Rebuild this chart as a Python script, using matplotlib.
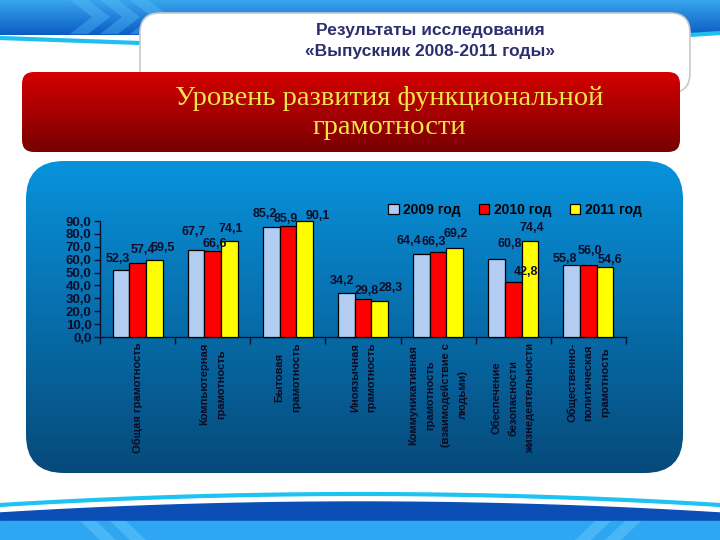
import numpy as np
import matplotlib
matplotlib.use("Agg")
import matplotlib.pyplot as plt
from matplotlib.patches import FancyBboxPatch, Polygon, Patch
from matplotlib.colors import to_rgb
import matplotlib.transforms as mtransforms

plt.rcParams['font.family'] = ['Liberation Sans', 'DejaVu Sans']

# Data
categories = ["Общая грамотность",
              "Компьютерная\nграмотность",
              "Бытовая\nграмотность",
              "Иноязычная\nграмотность",
              "Коммуникативная\nграмотность\n(взаимодействие с\nлюдьми)",
              "Обеспечение\nбезопасности\nжизнедеятельности",
              "Общественно-\nполитическая\nграмотность"]
series_names = ["2009 год", "2010 год", "2011 год"]
vals_2009 = [52.3, 67.7, 85.2, 34.2, 64.4, 60.8, 55.8]
vals_2010 = [57.4, 66.6, 85.9, 29.8, 66.3, 42.8, 56.0]
vals_2011 = [59.5, 74.1, 90.1, 28.3, 69.2, 74.4, 54.6]
y_ticks = [0, 10, 20, 30, 40, 50, 60, 70, 80, 90]

title_lines = "Результаты исследования\n«Выпускник 2008-2011 годы»"
banner_text = "Уровень развития функциональной\nграмотности"

bar_colors = ["#b3cdf2", "#ff0000", "#ffff00"]

# label nudges in pixels (dx, height of label centre above bar top), like the Excel layout
label_nudge = [
    [(-3, 11), (-2, 18), (-6, 13), (-4, 12), (-13, 13), (13, 15), (-7, 6)],
    [(5, 13), (2, 7), (-2, 7), (4, 8), (-4, 10), (13, 10), (1, 14)],
    [(9, 12), (1, 12), (13, 5), (11, 13), (1, 14), (2, 13), (5, 7)],
]

fig = plt.figure(figsize=(7.2, 5.4), dpi=100)

# background canvas in pixel units
bg = fig.add_axes([0, 0, 1, 1], zorder=0)
bg.set_xlim(0, 720)
bg.set_ylim(540, 0)
bg.axis("off")


def grad_box(x, y, w, h, r, top, bottom, edge="none", z=1):
    patch = FancyBboxPatch((x, y), w, h, boxstyle=f"round,pad=0,rounding_size={r}",
                           facecolor="none", edgecolor=edge, linewidth=1, zorder=z + 0.1)
    bg.add_patch(patch)
    t, b = np.array(to_rgb(top)), np.array(to_rgb(bottom))
    k = np.linspace(0, 1, 256)[:, None]
    arr = (t * (1 - k) + b * k)[:, None, :]
    im = bg.imshow(arr, extent=(x, x + w, y + h, y), aspect="auto", zorder=z,
                   interpolation="bilinear")
    im.set_clip_path(patch)
    return patch


# top decorative banner
grad_box(-5, -5, 730, 40, 0.1, "#3fb0f2", "#0b5cc4", z=1)
for x0 in [70, 100, 130]:
    bg.add_patch(Polygon([[x0, 0], [x0 + 18, 0], [x0 + 40, 17], [x0 + 18, 34], [x0, 34], [x0 + 22, 17]],
                         closed=True, facecolor="#5cc4ff", alpha=0.35, edgecolor="none", zorder=1.5))
bg.plot([0, 140], [38, 43], color="#1fc0f0", lw=3, zorder=1.6, solid_capstyle="butt")
bg.plot([690, 720], [35, 33], color="#1fc0f0", lw=3, zorder=1.6, solid_capstyle="butt")

# white tab for title
tab = FancyBboxPatch((140, 13), 550, 80, boxstyle="round,pad=0,rounding_size=20",
                     facecolor="white", edgecolor="#c8c8c8", linewidth=1.2, zorder=2)
bg.add_patch(tab)
bg.text(430, 41, title_lines, ha="center", va="center", fontsize=12.5, fontweight="bold",
        color="#2e2e6e", linespacing=1.45, zorder=5)

# red banner
grad_box(22, 72, 658, 80, 12, "#d40000", "#780000", z=3)
bg.text(389, 113, banner_text, ha="center", va="center", fontsize=20.5,
        family=["Liberation Serif", "DejaVu Serif"], color="#f3e64a", linespacing=1.2, zorder=5)

# blue chart panel
grad_box(26, 161, 657, 312, 38, "#0892dc", "#064a7a", z=1)

# bottom decorative band
xs = np.linspace(0, 720, 50)
arch = 494 + 11 * ((xs - 360) / 360) ** 2
bg.fill_between(xs, arch + 8, 545, color="#0b4fb6", zorder=1)
bg.fill_between(xs, 521, 545, color="#2fa6f2", zorder=1.2)
bg.plot(xs, arch, color="#1fc3f2", lw=3, zorder=1.3)
bg.plot(xs, arch + 4, color="white", lw=2, zorder=1.3)
for x0 in [80, 110]:
    bg.add_patch(Polygon([[x0, 521], [x0 + 16, 521], [x0 + 36, 540], [x0 + 20, 540]],
                         closed=True, facecolor="#6fd0ff", alpha=0.4, edgecolor="none", zorder=1.4))
for x0 in [575, 605]:
    bg.add_patch(Polygon([[x0 + 20, 521], [x0 + 36, 521], [x0 + 16, 540], [x0, 540]],
                         closed=True, facecolor="#6fd0ff", alpha=0.4, edgecolor="none", zorder=1.4))

# chart
ax = fig.add_axes([100 / 720, 1 - 337 / 540, 526 / 720, 116 / 540], zorder=2)
ax.patch.set_alpha(0)
x = np.arange(len(categories)) + 0.5
w = 0.222
all_vals = [vals_2009, vals_2010, vals_2011]
dark = "#0e0e2a"
for i, (vals, col) in enumerate(zip(all_vals, bar_colors)):
    pos = x + (i - 1) * w
    ax.bar(pos, vals, width=w, color=col, edgecolor="black", linewidth=0.9, clip_on=False, zorder=3)
    for px, v, (dx, dy) in zip(pos, vals, label_nudge[i]):
        ax.annotate(f"{v:.1f}".replace(".", ","), (px, v), xytext=(dx, dy), textcoords="offset pixels",
                    ha="center", va="center", fontsize=9, fontweight="bold", color=dark,
                    annotation_clip=False, zorder=4)

ax.set_xlim(0, len(categories))
ax.set_ylim(0, 90)
ax.set_yticks(y_ticks)
ax.set_yticklabels([f"{v:.1f}".replace(".", ",") for v in y_ticks], fontsize=9.5,
                   fontweight="bold", color=dark)
ax.set_xticks(np.arange(len(categories) + 1))
ax.set_xticklabels([])
ax.tick_params(axis="both", direction="out", length=4, color=dark, width=1)
ax.tick_params(axis="y", pad=2)
ax.tick_params(axis="x", length=5)
for s in ["top", "right"]:
    ax.spines[s].set_visible(False)
for s in ["left", "bottom"]:
    ax.spines[s].set_color(dark)
    ax.spines[s].set_linewidth(1)

trans = mtransforms.blended_transform_factory(ax.transData, ax.transAxes)
for xi, lab in zip(x, categories):
    ax.text(xi, -0.05, lab, transform=trans, rotation=90, ha="center", va="top",
            multialignment="center", linespacing=1.8, fontsize=8, fontweight="bold",
            color="#0b0b22")

handles = [Patch(facecolor=c, edgecolor="black", linewidth=0.9) for c in bar_colors]
fig.legend(handles, series_names, loc="center", bbox_to_anchor=(515 / 720, 1 - 210 / 540),
           ncol=3, frameon=False, prop={"weight": "bold", "size": 10},
           handlelength=0.75, handleheight=0.75, handletextpad=0.35, columnspacing=1.3)

fig.savefig("out.png", dpi=100)
